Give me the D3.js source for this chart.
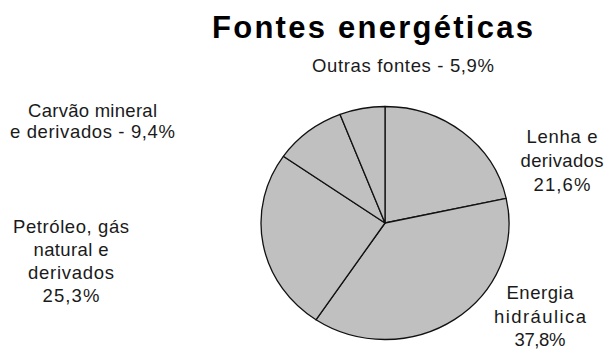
<!DOCTYPE html>
<html>
<head>
<meta charset="utf-8">
<script src="https://cdn.jsdelivr.net/npm/d3@7"></script>
<style>
  html, body { margin: 0; padding: 0; background: #fff; }
  svg { display: block; }
  text { font-family: "Liberation Sans", Arial, sans-serif; fill: #1a1a1a; }
</style>
</head>
<body>
<svg id="chart" width="606" height="350"></svg>
<script>
// Fontes energéticas — participação de cada fonte (%)
const title = "Fontes energéticas";
const categories = ["Lenha e derivados", "Energia hidráulica", "Petróleo, gás natural e derivados", "Carvão mineral e derivados", "Outras fontes"];
const values = [21.6, 37.8, 25.3, 9.4, 5.9];
// Text lines of each label (the percentage is appended from values)
const labelNames = [
  ["Lenha e", "derivados"],
  ["Energia", "hidráulica"],
  ["Petróleo, gás", "natural e", "derivados"],
  ["Carvão mineral", "e derivados - "],
  ["Outras fontes - "]
];

const fmt = v => d3.format(".1f")(v).replace(".", ",") + "%";

const svg = d3.select("#chart");

// Pie geometry
const cx = 385, cy = 223, ry = 116.5, rx = 124;

const pie = d3.pie().sort(null).value(d => d).startAngle(0).endAngle(2 * Math.PI);
const arc = d3.arc().innerRadius(0).outerRadius(ry);

const g = svg.append("g")
  .attr("transform", `translate(${cx},${cy}) scale(${rx / ry},1)`);

g.selectAll("path")
  .data(pie(values))
  .join("path")
  .attr("d", arc)
  .attr("fill", "#c0c0c0")
  .attr("stroke", "#111")
  .attr("stroke-width", 1.3)
  .attr("stroke-linejoin", "round")
  .attr("vector-effect", "non-scaling-stroke");

// Title
svg.append("text")
  .attr("x", 372.5).attr("y", 38)
  .attr("text-anchor", "middle")
  .attr("font-size", 31).attr("font-weight", "bold")
  .attr("textLength", 321).attr("lengthAdjust", "spacing")
  .style("fill", "#000")
  .text(title);

// Label placement: anchor x, first baseline, line step, widths per line
const labelLayout = [
  { x: 562, y: 142.7, dy: 24, w: [71, 83, 57] },
  { x: 540, y: 299, dy: 23.5, w: [67, 92, 51] },
  { x: 71, y: 232.7, dy: 23, w: [116, 75, 86, 57] },
  { x: 92.5, y: 116.7, dy: 21.5, w: [129, 165] },
  { x: 403, y: 72.3, dy: 0, w: [182] }
];

labelNames.forEach((names, i) => {
  let lines;
  if (names[names.length - 1].endsWith("- ")) {
    lines = names.slice(0, -1).concat([names[names.length - 1] + fmt(values[i])]);
  } else {
    lines = names.concat([fmt(values[i])]);
  }
  const L = labelLayout[i];
  lines.forEach((t, j) => {
    svg.append("text")
      .attr("x", L.x).attr("y", L.y + j * L.dy)
      .attr("text-anchor", "middle")
      .attr("font-size", 18.5)
      .attr("textLength", L.w[j]).attr("lengthAdjust", "spacing")
      .text(t);
  });
});
</script>
</body>
</html>
